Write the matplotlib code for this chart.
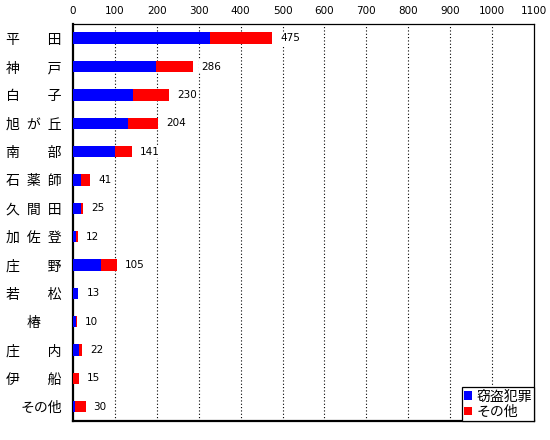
import numpy as np
import matplotlib.pyplot as plt
from matplotlib.transforms import offset_copy

plt.rcParams['font.family'] = ['Noto Sans CJK JP', 'DejaVu Sans']

# data
labels = ["平\u3000\u3000田", "神\u3000\u3000戸", "白\u3000\u3000子", "旭\u2002が\u2002丘",
          "南\u3000\u3000部", "石\u2002薬\u2002師", "久\u2002間\u2002田", "加\u2002佐\u2002登",
          "庄\u3000\u3000野", "若\u3000\u3000松", "椿\u3000\u2002", "庄\u3000\u3000内",
          "伊\u3000\u3000船", "その他"]
totals = [475, 286, 230, 204, 141, 41, 25, 12, 105, 13, 10, 22, 15, 30]
theft = [327, 198, 144, 131, 100, 19, 20, 8, 67, 11, 8, 15, 0, 4]
other = [t - b for t, b in zip(totals, theft)]
series_names = ["窃盗犯罪", "その他"]
xticks = np.arange(0, 1101, 100)

fig = plt.figure(figsize=(5.5, 4.4), dpi=100)
ax = fig.add_axes([0.1327, 0.0432, 0.8382, 0.9023])

y = np.arange(len(labels))
ax.barh(y, theft, height=0.4, color='#0000FF', label=series_names[0], zorder=3)
ax.barh(y, other, left=theft, height=0.4, color='#FF0000', label=series_names[1], zorder=3)

for yi, t in zip(y, totals):
    ax.text(t, yi, str(t), fontsize=7.5, family='DejaVu Sans', va='center', ha='left',
            transform=offset_copy(ax.transData, fig=fig, x=8, y=0, units='dots'),
            bbox=dict(facecolor='white', edgecolor='none', pad=1), zorder=4)

ax.set_xlim(0, 1100)
ax.set_ylim(len(labels) - 0.5, -0.5)
ax.set_xticks(xticks)
ax.xaxis.tick_top()
ax.tick_params(axis='x', length=0, pad=6, labelsize=7.5)
for lab in ax.get_xticklabels():
    lab.set_family('DejaVu Sans')
ax.set_yticks(y)
ax.set_yticklabels(labels, fontsize=10)
ax.tick_params(axis='y', length=0, pad=8)

for xv in xticks[1:-1]:
    ax.axvline(xv, color='black', lw=0.8, ls=(0, (1, 2)), zorder=1)

for s in ['top', 'right']:
    ax.spines[s].set_linewidth(0.9)
for s in ['left', 'bottom']:
    ax.spines[s].set_linewidth(1.6)

leg = ax.legend(loc='lower right', borderaxespad=0, fontsize=10, handlelength=0.6,
                handleheight=0.6, handletextpad=0.3, borderpad=0.15, labelspacing=0.1,
                fancybox=False, framealpha=1, edgecolor='black')
leg.get_frame().set_linewidth(0.9)

fig.savefig('out.png', dpi=100)
